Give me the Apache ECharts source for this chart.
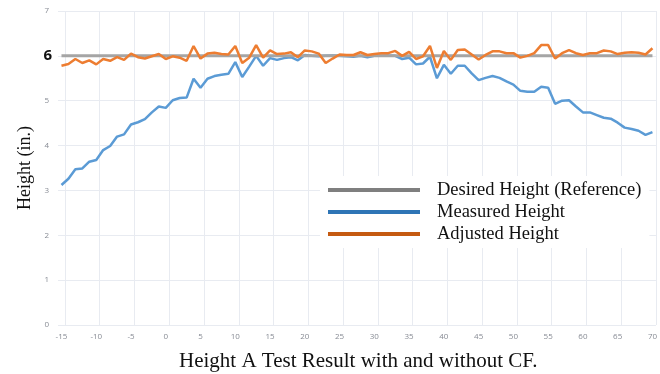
<!DOCTYPE html>
<html>
<head>
<meta charset="utf-8">
<script src="https://cdn.jsdelivr.net/npm/echarts@6/dist/echarts.min.js"></script>
<style>
html,body{margin:0;padding:0;background:#fff;}
#chart{width:660px;height:374px;}
</style>
</head>
<body>
<div id="chart"></div>
<script>
const categories = [-15,-14,-13,-12,-11,-10,-9,-8,-7,-6,-5,-4,-3,-2,-1,0,1,2,3,4,5,6,7,8,9,10,11,12,13,14,15,16,17,18,19,20,21,22,23,24,25,26,27,28,29,30,31,32,33,34,35,36,37,38,39,40,41,42,43,44,45,46,47,48,49,50,51,52,53,54,55,56,57,58,59,60,61,62,63,64,65,66,67,68,69,70];

const measuredHeight = [3.12,3.26,3.47,3.49,3.64,3.68,3.90,3.99,4.20,4.25,4.47,4.52,4.59,4.74,4.87,4.84,5.01,5.06,5.07,5.49,5.29,5.49,5.55,5.58,5.60,5.86,5.53,5.76,6.00,5.78,5.95,5.91,5.95,5.97,5.90,6.02,6.00,5.99,6.00,6.01,6.00,5.99,5.98,6.00,5.97,6.00,6.00,6.01,6.00,5.93,5.96,5.81,5.83,5.98,5.50,5.80,5.60,5.78,5.78,5.61,5.46,5.51,5.55,5.51,5.43,5.36,5.22,5.20,5.20,5.31,5.29,4.93,5.00,5.01,4.87,4.74,4.74,4.68,4.62,4.60,4.51,4.40,4.37,4.33,4.24,4.30];

const adjustedHeight = [5.78,5.82,5.93,5.84,5.90,5.81,5.93,5.89,5.97,5.91,6.05,5.97,5.94,5.99,6.04,5.93,5.99,5.96,5.89,6.22,5.94,6.05,6.07,6.04,6.03,6.22,5.84,5.96,6.24,5.96,6.12,6.04,6.05,6.08,5.97,6.12,6.10,6.05,5.84,5.94,6.03,6.02,6.02,6.08,6.02,6.04,6.06,6.06,6.11,6.00,6.09,5.93,5.99,6.22,5.73,6.11,5.91,6.13,6.14,6.03,5.92,6.02,6.10,6.10,6.06,6.06,5.96,6.00,6.06,6.24,6.24,5.94,6.06,6.13,6.06,6.02,6.06,6.06,6.12,6.10,6.04,6.07,6.08,6.07,6.03,6.17];

const desiredHeightValue = 6;
const yTicks = [0,1,2,3,4,5,6,7];
const seriesNames = ['Desired Height (Reference)','Measured Height','Adjusted Height'];
const titleText = 'Height A Test Result with and without CF.';
const yAxisTitle = 'Height (in.)';

const chart = echarts.init(document.getElementById('chart'), null, {renderer:'canvas'});
const serif = '"Liberation Serif","Times New Roman",serif';
const sans = '"Open Sans","Noto Sans",sans-serif';

chart.setOption({
  animation:false,
  backgroundColor:'#ffffff',
  grid:{left:58, top:11, width:602, height:314, containLabel:false},
  title:{
    text:titleText, left:174, top:346,
    textStyle:{fontFamily:serif, fontSize:21, fontWeight:'normal', color:'#111'}
  },
  legend:{
    left:320, top:176, orient:'vertical',
    backgroundColor:'#ffffff', padding:[3,8,3,8],
    itemWidth:92, itemHeight:4, itemGap:0, icon:'rect',
    textStyle:{fontFamily:serif, fontSize:18.5, color:'#111', lineHeight:22, padding:[0,0,0,12]},
    data:[
      {name:seriesNames[0], itemStyle:{color:'#7f7f7f'}},
      {name:seriesNames[1], itemStyle:{color:'#2e75b6'}},
      {name:seriesNames[2], itemStyle:{color:'#c55a11'}}
    ]
  },
  xAxis:{
    type:'category', data:categories, boundaryGap:true,
    axisLine:{show:false}, axisTick:{show:false},
    axisLabel:{interval:4, fontSize:8, color:'#878b94', fontFamily:sans, margin:8},
    splitLine:{show:true, interval:function(i){return i%5===1;}, lineStyle:{color:'#e8ebf1', width:1}}
  },
  yAxis:{
    type:'value', min:0, max:7, interval:1,
    name:yAxisTitle, nameLocation:'middle', nameGap:24, nameMoveOverlap:false,
    nameTextStyle:{fontFamily:serif, fontSize:18, color:'#111'},
    axisLine:{show:false}, axisTick:{show:false},
    axisLabel:{
      margin:6,
      formatter:function(v){ return v===desiredHeightValue ? '{b|'+v+'}' : '{a|'+v+'}'; },
      rich:{
        a:{fontSize:8, color:'#878b94', fontFamily:sans, padding:[0,3,0,0]},
        b:{fontSize:15, fontWeight:'bold', color:'#111', fontFamily:sans}
      }
    },
    splitLine:{lineStyle:{color:'#e8ebf1', width:1}}
  },
  series:[
    {
      name:seriesNames[1], type:'line', data:measuredHeight, showSymbol:false, z:2,
      lineStyle:{color:'#5b9bd5', width:2.5}, itemStyle:{color:'#5b9bd5'}
    },
    {
      name:seriesNames[0], type:'line', showSymbol:false, z:3,
      data:[[String(categories[0]), desiredHeightValue],[String(categories[categories.length-1]), desiredHeightValue]],
      lineStyle:{color:'#a5a5a5', width:3}, itemStyle:{color:'#a5a5a5'}
    },
    {
      name:seriesNames[2], type:'line', data:adjustedHeight, showSymbol:false, z:4,
      lineStyle:{color:'#ed7d31', width:2.5}, itemStyle:{color:'#ed7d31'}
    }
  ]
});
</script>
</body>
</html>
